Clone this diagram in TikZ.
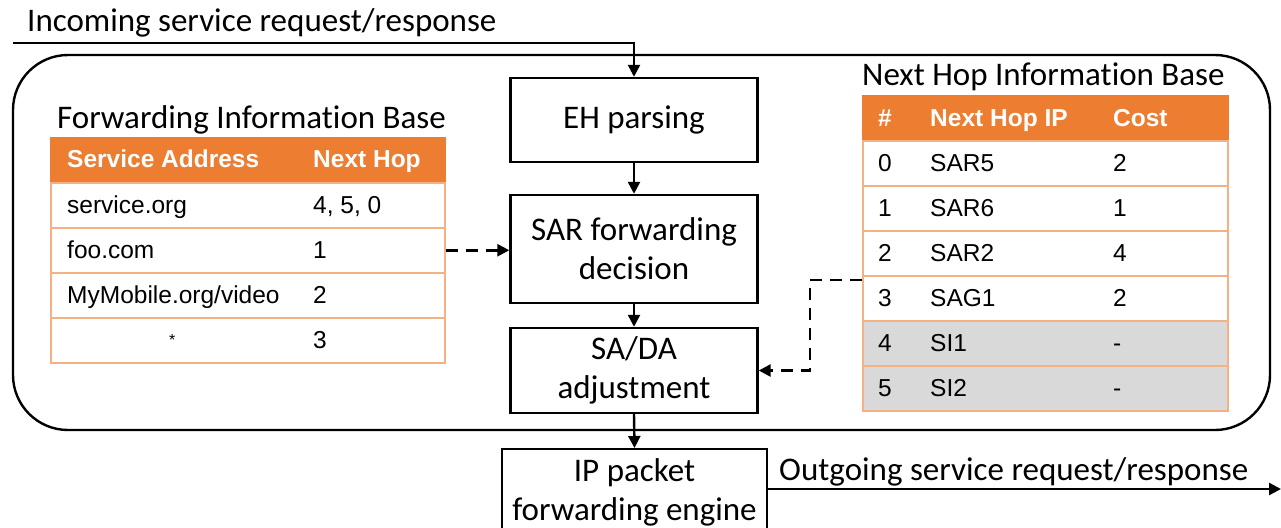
\documentclass[tikz,border=0pt]{standalone}
\usepackage{fontspec}
\setmainfont[Ligatures=NoCommon]{Carlito}
\newfontfamily\tabfont{Liberation Sans}
\usetikzlibrary{arrows.meta}
\definecolor{hdr}{HTML}{ED7D31}
\definecolor{rulec}{HTML}{F4B183}
\definecolor{shade}{HTML}{D9D9D9}

\begin{document}
\begin{tikzpicture}[x=1pt,y=-1pt,
  lbl/.style={font=\fontsize{33}{39}\selectfont,inner sep=0pt,anchor=base west},
  stage/.style={draw,line width=2.4pt,minimum width=247pt,align=center,inner sep=0pt,
                font=\fontsize{33}{39}\selectfont},
  flow/.style={line width=2.4pt,-{Triangle[length=12pt,width=12pt]}},
  ref/.style={line width=2.6pt,dash pattern=on 12pt off 8pt,-{Triangle[length=12pt,width=12pt]}},
  cell/.style={draw=rulec,line width=1.5pt,inner sep=0pt,anchor=north west,minimum height=45pt},
  celltxt/.style={anchor=base west,inner sep=0pt,font=\tabfont\fontsize{24.5}{28}\selectfont},
  hdrtxt/.style={celltxt,font=\tabfont\bfseries\fontsize{24.5}{28}\selectfont,text=white},
]
\useasboundingbox (0,0) rectangle (1281,527);

% router enclosure
\node[draw,line width=2.4pt,rounded corners=55pt,minimum width=1257pt,minimum height=375pt,inner sep=0pt]
  (router) at (641.5,242.5) {};

% processing stages
\node[stage,fill=white,minimum height=84pt]  (eh)   at (634,120)   {EH parsing};
\node[stage,fill=white,minimum height=108pt] (sar)  at (634,249)   {SAR forwarding\\decision};
\node[stage,fill=white,minimum height=85pt]  (sada) at (634,370.5) {SA/DA\\adjustment};
\node[stage,fill=white,minimum width=265pt,minimum height=86pt,anchor=north] (ip) at (634.5,448)
  {IP packet\\forwarding engine};

% ---------- Forwarding Information Base ----------
\node[lbl] (fibtitle) at (57,128) {Forwarding Information Base};
\node[cell,draw=hdr,fill=hdr,minimum width=394pt] (fh) at (50,137) {};
\foreach \i in {1,...,4}
  \node[cell,fill=white,minimum width=394pt] (f\i) at (50,{182+45*(\i-1)}) {};
\node[hdrtxt] (fh1) at (67,167) {Service Address};
\node[hdrtxt] (fh2) at (313,167) {Next Hop};
\node[celltxt] (fa1) at (67,213) {service.org};
\node[celltxt] (fb1) at (313,213) {4, 5, 0};
\node[celltxt] (fa2) at (67,258) {foo.com};
\node[celltxt] (fb2) at (313,258) {1};
\node[celltxt] (fa3) at (67,303) {MyMobile.org/video};
\node[celltxt] (fb3) at (313,303) {2};
\node[celltxt,font=\tabfont\fontsize{16}{18}\selectfont] (fa4) at (169,345) {*};
\node[celltxt] (fb4) at (313,348) {3};

% ---------- Next Hop Information Base ----------
\node[lbl] (nhtitle) at (862,85) {Next Hop Information Base};
\node[cell,draw=hdr,fill=hdr,minimum width=365pt] (nh) at (862,95) {};
\foreach \i in {1,...,4}
  \node[cell,fill=white,minimum width=365pt] (n\i) at (862,{140+45*(\i-1)}) {};
\foreach \i in {5,6}
  \node[cell,fill=shade,minimum width=365pt] (n\i) at (862,{140+45*(\i-1)}) {};
\node[hdrtxt] (nhh1) at (878,126) {\#};
\node[hdrtxt] (nhh2) at (930,126) {Next Hop IP};
\node[hdrtxt] (nhh3) at (1113,126) {Cost};
\foreach \k/\ip/\c [count=\j from 0] in {0/SAR5/2,1/SAR6/1,2/SAR2/4,3/SAG1/2,4/SI1/-,5/SI2/-}{
  \node[celltxt] (na\j) at (878,{171+45*\j}) {\k};
  \node[celltxt] (nb\j) at (930,{171+45*\j}) {\ip};
  \node[celltxt] (nc\j) at (1113,{171+45*\j}) {\c};
}

% ---------- signal flow ----------
\coordinate (in)  at (13,43);
\coordinate (out) at (1281,489);
\node[lbl] (inlbl)  at (27,32)  {Incoming service request/response};
\node[lbl] (outlbl) at (779,480) {Outgoing service request/response};

\draw[flow] (in) -| (eh.north);
\draw[flow] (eh.south) -- (sar.north);
\draw[flow] (sar.south) -- (sada.north);
\draw[flow] (sada.south) -- (ip.north);
\draw[flow] (ip.east |- out) -- (out);

% table lookups
\draw[ref] (f2.east) -- (sar.west |- f2.east);
\draw[ref] (n4.north west |- 0,280) -- ++(-52,0) |- (sada.east);
\end{tikzpicture}
\end{document}
